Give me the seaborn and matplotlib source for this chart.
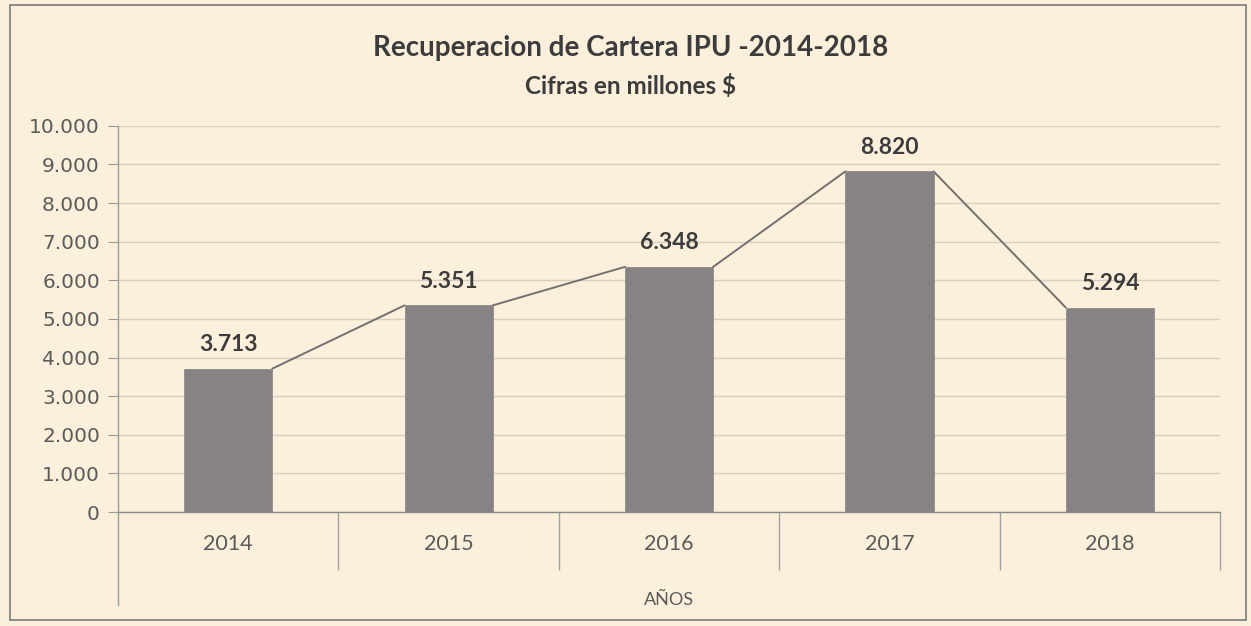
import numpy as np
import pandas as pd
import matplotlib
matplotlib.use("Agg")
import matplotlib.pyplot as plt
from matplotlib.ticker import FuncFormatter, FixedLocator
from matplotlib.patches import Rectangle
import seaborn as sns

years = ["2014", "2015", "2016", "2017", "2018"]
values = [3713, 5351, 6348, 8820, 5294]
y_ticks = [0, 1000, 2000, 3000, 4000, 5000, 6000, 7000, 8000, 9000, 10000]

bg = "#fcf0dc"
bar_color = "#878283"
text_color = "#3c3c3c"
tick_color = "#5a5a5a"

sns.set_style("white")
plt.rcParams["font.family"] = ["Lato", "DejaVu Sans"]

data = pd.DataFrame({"year": years, "value": values})

fig = plt.figure(figsize=(12.51, 6.26), dpi=100, facecolor=bg)
ax = fig.add_axes([0.0943, 0.182, 0.881, 0.617])
ax.set_facecolor(bg)

bar_w = 0.4
sns.barplot(data=data, x="year", y="value", color=bar_color, saturation=1,
            width=bar_w, ax=ax, zorder=3, edgecolor=bar_color, linewidth=0.5)

# series lines: top right of one bar to top left of the next
for i in range(len(values) - 1):
    ax.plot([i + bar_w / 2, i + 1 - bar_w / 2], [values[i], values[i + 1]],
            color="#727070", lw=1.4, zorder=2)

# data labels
for i, v in enumerate(values):
    lbl = f"{v:,}".replace(",", ".")
    ax.annotate(lbl, (i, v), xytext=(0, 10), textcoords="offset points",
                ha="center", va="bottom", fontsize=16.5, fontweight="bold",
                color=text_color)

ax.set_ylim(0, 10000)
ax.set_xlim(-0.5, len(years) - 0.5)
ax.yaxis.set_major_locator(FixedLocator(y_ticks))
ax.yaxis.set_major_formatter(
    FuncFormatter(lambda v, p: f"{int(v):,}".replace(",", ".")))
ax.grid(axis="y", color="#d8cfc0", lw=1, zorder=0)

for s in ["top", "right"]:
    ax.spines[s].set_visible(False)
ax.spines["left"].set_color("#9a9a9a")
ax.spines["bottom"].set_color("#8a8a8a")
ax.spines["left"].set_linewidth(1)
ax.spines["bottom"].set_linewidth(1)

ax.tick_params(axis="y", left=True, direction="out", length=7,
               color="#9a9a9a", labelsize=14.5, labelcolor=tick_color, pad=6)
for t in ax.get_yticklabels():
    t.set_fontfamily("DejaVu Sans")
ax.tick_params(axis="x", which="major", bottom=False, length=0,
               labelsize=15.5, labelcolor=tick_color, pad=16)

# category separators below the axis
boundaries = np.arange(len(years) + 1) - 0.5
ax.xaxis.set_minor_locator(FixedLocator(boundaries[1:]))
ax.tick_params(axis="x", which="minor", bottom=True, direction="out",
               length=42, color="#a0a0a0", width=1)
ax.plot([-0.5, -0.5], [0, -0.24], transform=ax.get_xaxis_transform(),
        color="#9a9a9a", lw=1, clip_on=False)

ax.set_xlabel("AÑOS", fontsize=13, color=tick_color, labelpad=12)
ax.set_ylabel("")

fig.text(0.504, 0.924, "Recuperacion de Cartera IPU -2014-2018",
         ha="center", va="center", fontsize=20, fontweight="bold",
         color=text_color)
fig.text(0.504, 0.862, "Cifras en millones $", ha="center", va="center",
         fontsize=17.5, fontweight="bold", color=text_color)

# outer chart border
fig.patches.append(Rectangle((0.008, 0.01), 0.988, 0.982,
                             transform=fig.transFigure, fill=False,
                             edgecolor="#7a7a7a", lw=1.2))

fig.savefig("out.png", dpi=100, facecolor=bg)
